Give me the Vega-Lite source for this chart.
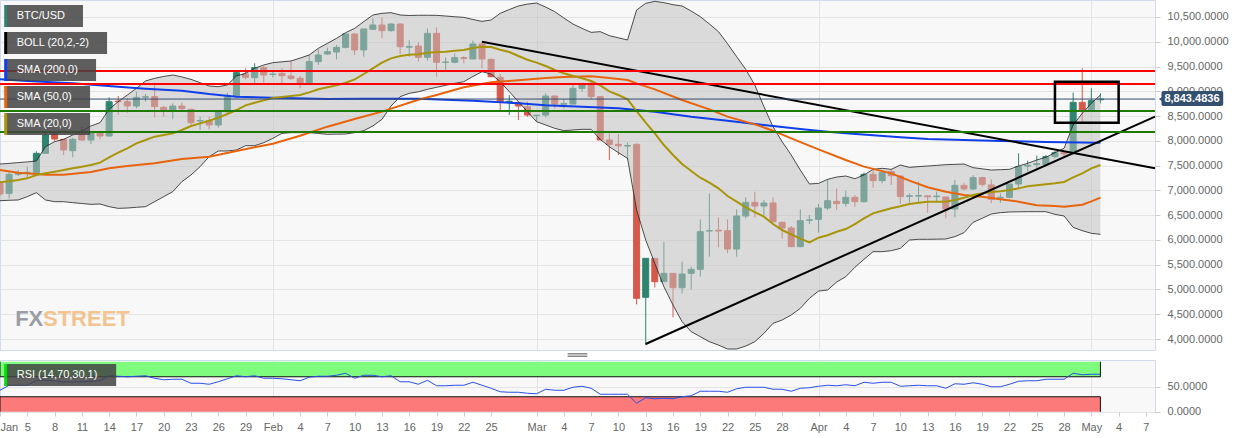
{
  "$schema": "https://vega.github.io/schema/vega-lite/v6.json",
  "padding": {"left": -2, "top": -1, "right": 0, "bottom": 0},
  "background": "white",
  "bounds": "flush",
  "spacing": 10,
  "config": {
    "font": "Liberation Sans",
    "view": {"fill": "#f8f8f8", "stroke": "#d3daeb"},
    "axis": {"title": null, "labelColor": "#666666", "labelFontSize": 11, "gridColor": "#e4e4e4", "tickColor": "#cccccc", "domain": false, "labelOverlap": false}
  },
  "datasets": {
    "days": [
      {"date":"2020-01-02","open":7142,"high":7190,"low":6880,"close":6927,"upper":7532,"lower":6792,"sma20":7162,"rsi":43},
      {"date":"2020-01-03","open":6940,"high":7378,"low":6839,"close":7324,"upper":7545,"lower":6800,"sma20":7185,"rsi":53},
      {"date":"2020-01-04","open":7324,"high":7410,"low":7290,"close":7360,"upper":7560,"lower":6806,"sma20":7209,"rsi":53},
      {"date":"2020-01-05","open":7355,"high":7478,"low":7243,"close":7365,"upper":7575,"lower":6873,"sma20":7243,"rsi":53},
      {"date":"2020-01-06","open":7344,"high":7790,"low":7320,"close":7748,"upper":7593,"lower":6954,"sma20":7310,"rsi":63},
      {"date":"2020-01-07","open":7748,"high":8165,"low":7735,"close":8118,"upper":7882,"lower":6806,"sma20":7344,"rsi":63},
      {"date":"2020-01-08","open":8138,"high":8200,"low":8000,"close":8037,"upper":7983,"lower":6772,"sma20":7378,"rsi":62},
      {"date":"2020-01-09","open":8030,"high":8040,"low":7714,"close":7815,"upper":8030,"lower":6772,"sma20":7411,"rsi":60},
      {"date":"2020-01-10","open":7801,"high":8060,"low":7667,"close":8030,"upper":8118,"lower":6752,"sma20":7445,"rsi":60},
      {"date":"2020-01-11","open":8185,"high":8290,"low":8000,"close":8017,"upper":8200,"lower":6735,"sma20":7478,"rsi":60},
      {"date":"2020-01-12","open":8017,"high":8200,"low":7936,"close":8160,"upper":8300,"lower":6718,"sma20":7512,"rsi":61},
      {"date":"2020-01-13","open":8165,"high":8200,"low":8030,"close":8098,"upper":8367,"lower":6725,"sma20":7559,"rsi":62},
      {"date":"2020-01-14","open":8098,"high":8878,"low":8090,"close":8790,"upper":8636,"lower":6671,"sma20":7667,"rsi":72},
      {"date":"2020-01-15","open":8800,"high":8905,"low":8522,"close":8790,"upper":8791,"lower":6637,"sma20":7761,"rsi":71},
      {"date":"2020-01-16","open":8790,"high":8858,"low":8568,"close":8703,"upper":8925,"lower":6644,"sma20":7849,"rsi":70},
      {"date":"2020-01-17","open":8703,"high":8993,"low":8656,"close":8878,"upper":9060,"lower":6658,"sma20":7949,"rsi":71},
      {"date":"2020-01-18","open":8880,"high":8945,"low":8790,"close":8890,"upper":9208,"lower":6671,"sma20":8017,"rsi":72},
      {"date":"2020-01-19","open":8892,"high":9160,"low":8474,"close":8690,"upper":9262,"lower":6772,"sma20":8084,"rsi":67},
      {"date":"2020-01-20","open":8676,"high":8703,"low":8488,"close":8622,"upper":9300,"lower":6873,"sma20":8120,"rsi":64},
      {"date":"2020-01-21","open":8622,"high":8757,"low":8434,"close":8703,"upper":9329,"lower":6974,"sma20":8151,"rsi":65},
      {"date":"2020-01-22","open":8703,"high":8777,"low":8589,"close":8649,"upper":9290,"lower":7176,"sma20":8219,"rsi":65},
      {"date":"2020-01-23","open":8636,"high":8650,"low":8300,"close":8367,"upper":9241,"lower":7310,"sma20":8300,"rsi":57},
      {"date":"2020-01-24","open":8400,"high":8488,"low":8219,"close":8410,"upper":9175,"lower":7479,"sma20":8353,"rsi":57},
      {"date":"2020-01-25","open":8407,"high":8488,"low":8232,"close":8320,"upper":9107,"lower":7680,"sma20":8407,"rsi":55},
      {"date":"2020-01-26","open":8320,"high":8589,"low":8266,"close":8589,"upper":9093,"lower":7795,"sma20":8468,"rsi":60},
      {"date":"2020-01-27","open":8589,"high":8972,"low":8542,"close":8892,"upper":9127,"lower":7795,"sma20":8542,"rsi":66},
      {"date":"2020-01-28","open":8892,"high":9396,"low":8860,"close":9376,"upper":9309,"lower":7815,"sma20":8622,"rsi":72},
      {"date":"2020-01-29","open":9349,"high":9460,"low":9241,"close":9282,"upper":9362,"lower":7902,"sma20":8717,"rsi":70},
      {"date":"2020-01-30","open":9275,"high":9564,"low":9161,"close":9477,"upper":9464,"lower":7902,"sma20":8770,"rsi":72},
      {"date":"2020-01-31","open":9477,"high":9510,"low":9174,"close":9329,"upper":9531,"lower":7963,"sma20":8817,"rsi":67},
      {"date":"2020-02-01","open":9340,"high":9430,"low":9282,"close":9349,"upper":9578,"lower":8050,"sma20":8865,"rsi":67},
      {"date":"2020-02-02","open":9362,"high":9464,"low":9127,"close":9315,"upper":9595,"lower":8151,"sma20":8885,"rsi":66},
      {"date":"2020-02-03","open":9309,"high":9612,"low":9228,"close":9262,"upper":9612,"lower":8165,"sma20":8905,"rsi":64},
      {"date":"2020-02-04","open":9262,"high":9309,"low":9060,"close":9161,"upper":9670,"lower":8165,"sma20":8925,"rsi":62},
      {"date":"2020-02-05","open":9161,"high":9733,"low":9161,"close":9598,"upper":9733,"lower":8165,"sma20":8979,"rsi":69},
      {"date":"2020-02-06","open":9598,"high":9847,"low":9531,"close":9733,"upper":9867,"lower":8150,"sma20":9040,"rsi":71},
      {"date":"2020-02-07","open":9753,"high":9881,"low":9733,"close":9800,"upper":9968,"lower":8131,"sma20":9080,"rsi":71},
      {"date":"2020-02-08","open":9793,"high":9935,"low":9645,"close":9887,"upper":10069,"lower":8135,"sma20":9120,"rsi":73},
      {"date":"2020-02-09","open":9887,"high":10157,"low":9867,"close":10157,"upper":10184,"lower":8138,"sma20":9174,"rsi":77},
      {"date":"2020-02-10","open":10157,"high":10170,"low":9733,"close":9834,"upper":10271,"lower":8165,"sma20":9241,"rsi":67},
      {"date":"2020-02-11","open":9834,"high":10258,"low":9699,"close":10258,"upper":10406,"lower":8205,"sma20":9349,"rsi":73},
      {"date":"2020-02-12","open":10251,"high":10473,"low":10237,"close":10338,"upper":10540,"lower":8300,"sma20":9464,"rsi":73},
      {"date":"2020-02-13","open":10338,"high":10493,"low":10069,"close":10224,"upper":10574,"lower":8434,"sma20":9578,"rsi":70},
      {"date":"2020-02-14","open":10224,"high":10372,"low":10204,"close":10358,"upper":10587,"lower":8703,"sma20":9665,"rsi":72},
      {"date":"2020-02-15","open":10358,"high":10372,"low":9753,"close":9901,"upper":10540,"lower":8892,"sma20":9713,"rsi":60},
      {"date":"2020-02-16","open":9890,"high":10036,"low":9699,"close":9905,"upper":10530,"lower":8959,"sma20":9739,"rsi":60},
      {"date":"2020-02-17","open":9914,"high":9990,"low":9600,"close":9686,"upper":10535,"lower":8990,"sma20":9750,"rsi":55},
      {"date":"2020-02-18","open":9686,"high":10271,"low":9618,"close":10170,"upper":10535,"lower":9040,"sma20":9780,"rsi":63},
      {"date":"2020-02-19","open":10170,"high":10291,"low":9295,"close":9585,"upper":10533,"lower":9080,"sma20":9793,"rsi":52},
      {"date":"2020-02-20","open":9585,"high":9686,"low":9396,"close":9590,"upper":10520,"lower":9120,"sma20":9800,"rsi":52},
      {"date":"2020-02-21","open":9585,"high":9766,"low":9564,"close":9679,"upper":10505,"lower":9160,"sma20":9820,"rsi":53},
      {"date":"2020-02-22","open":9679,"high":9713,"low":9564,"close":9660,"upper":10493,"lower":9194,"sma20":9834,"rsi":53},
      {"date":"2020-02-23","open":9652,"high":10022,"low":9652,"close":9955,"upper":10450,"lower":9300,"sma20":9874,"rsi":59},
      {"date":"2020-02-24","open":9955,"high":10002,"low":9464,"close":9652,"upper":10412,"lower":9396,"sma20":9901,"rsi":53},
      {"date":"2020-02-25","open":9645,"high":9665,"low":9282,"close":9295,"upper":10439,"lower":9349,"sma20":9894,"rsi":47},
      {"date":"2020-02-26","open":9282,"high":9349,"low":8622,"close":8791,"upper":10574,"lower":9194,"sma20":9840,"rsi":40},
      {"date":"2020-02-27","open":8791,"high":8925,"low":8521,"close":8800,"upper":10650,"lower":8993,"sma20":9793,"rsi":39},
      {"date":"2020-02-28","open":8777,"high":8791,"low":8421,"close":8703,"upper":10722,"lower":8791,"sma20":9713,"rsi":39},
      {"date":"2020-02-29","open":8690,"high":8791,"low":8488,"close":8521,"upper":10760,"lower":8589,"sma20":9638,"rsi":37},
      {"date":"2020-03-01","open":8508,"high":8521,"low":8387,"close":8517,"upper":10782,"lower":8387,"sma20":9578,"rsi":36},
      {"date":"2020-03-02","open":8521,"high":8959,"low":8474,"close":8905,"upper":10700,"lower":8320,"sma20":9511,"rsi":45},
      {"date":"2020-03-03","open":8905,"high":8905,"low":8656,"close":8743,"upper":10607,"lower":8252,"sma20":9430,"rsi":43},
      {"date":"2020-03-04","open":8740,"high":8838,"low":8656,"close":8750,"upper":10480,"lower":8205,"sma20":9363,"rsi":43},
      {"date":"2020-03-05","open":8743,"high":9127,"low":8743,"close":9060,"upper":10358,"lower":8219,"sma20":9309,"rsi":49},
      {"date":"2020-03-06","open":9060,"high":9161,"low":8993,"close":9127,"upper":10270,"lower":8232,"sma20":9262,"rsi":51},
      {"date":"2020-03-07","open":9161,"high":9228,"low":8844,"close":8892,"upper":10190,"lower":8232,"sma20":9208,"rsi":47},
      {"date":"2020-03-08","open":8892,"high":8892,"low":8017,"close":8017,"upper":10204,"lower":8030,"sma20":9120,"rsi":35},
      {"date":"2020-03-09","open":8017,"high":8151,"low":7613,"close":7929,"upper":10123,"lower":7882,"sma20":8999,"rsi":35},
      {"date":"2020-03-10","open":7929,"high":8138,"low":7714,"close":7900,"upper":10080,"lower":7761,"sma20":8925,"rsi":35},
      {"date":"2020-03-11","open":7895,"high":7963,"low":7627,"close":7905,"upper":10036,"lower":7647,"sma20":8838,"rsi":35},
      {"date":"2020-03-12","open":7929,"high":7950,"low":4699,"close":4821,"upper":10641,"lower":6604,"sma20":8602,"rsi":17},
      {"date":"2020-03-13","open":4841,"high":5628,"low":3878,"close":5628,"upper":10776,"lower":5998,"sma20":8367,"rsi":28},
      {"date":"2020-03-14","open":5628,"high":5628,"low":5043,"close":5157,"upper":10816,"lower":5527,"sma20":8151,"rsi":26},
      {"date":"2020-03-15","open":5157,"high":5964,"low":5157,"close":5325,"upper":10790,"lower":5056,"sma20":7916,"rsi":27},
      {"date":"2020-03-16","open":5325,"high":5325,"low":4437,"close":5036,"upper":10749,"lower":4686,"sma20":7714,"rsi":26},
      {"date":"2020-03-17","open":5036,"high":5561,"low":4921,"close":5312,"upper":10722,"lower":4349,"sma20":7532,"rsi":30},
      {"date":"2020-03-18","open":5325,"high":5460,"low":5002,"close":5406,"upper":10620,"lower":4148,"sma20":7391,"rsi":32},
      {"date":"2020-03-19","open":5406,"high":6415,"low":5258,"close":6166,"upper":10507,"lower":4047,"sma20":7256,"rsi":41},
      {"date":"2020-03-20","open":6180,"high":6940,"low":5662,"close":6186,"upper":10360,"lower":3946,"sma20":7155,"rsi":41},
      {"date":"2020-03-21","open":6195,"high":6456,"low":5850,"close":6180,"upper":10204,"lower":3878,"sma20":7041,"rsi":41},
      {"date":"2020-03-22","open":6186,"high":6415,"low":5729,"close":5816,"upper":9960,"lower":3798,"sma20":6886,"rsi":39},
      {"date":"2020-03-23","open":5816,"high":6617,"low":5662,"close":6483,"upper":9699,"lower":3798,"sma20":6772,"rsi":46},
      {"date":"2020-03-24","open":6483,"high":6859,"low":6435,"close":6758,"upper":9443,"lower":3858,"sma20":6658,"rsi":49},
      {"date":"2020-03-25","open":6758,"high":6974,"low":6456,"close":6685,"upper":9127,"lower":3946,"sma20":6563,"rsi":49},
      {"date":"2020-03-26","open":6685,"high":6805,"low":6503,"close":6745,"upper":8690,"lower":4114,"sma20":6469,"rsi":49},
      {"date":"2020-03-27","open":6745,"high":6859,"low":6348,"close":6368,"upper":8286,"lower":4316,"sma20":6321,"rsi":45},
      {"date":"2020-03-28","open":6355,"high":6368,"low":6025,"close":6240,"upper":7983,"lower":4383,"sma20":6200,"rsi":45},
      {"date":"2020-03-29","open":6240,"high":6281,"low":5864,"close":5864,"upper":7714,"lower":4484,"sma20":6112,"rsi":41},
      {"date":"2020-03-30","open":5864,"high":6617,"low":5850,"close":6388,"upper":7411,"lower":4619,"sma20":6025,"rsi":47},
      {"date":"2020-03-31","open":6395,"high":6503,"low":6321,"close":6405,"upper":7129,"lower":4821,"sma20":5951,"rsi":48},
      {"date":"2020-04-01","open":6415,"high":6725,"low":6146,"close":6644,"upper":7142,"lower":4968,"sma20":6045,"rsi":51},
      {"date":"2020-04-02","open":6644,"high":7223,"low":6604,"close":6792,"upper":7223,"lower":4989,"sma20":6095,"rsi":53},
      {"date":"2020-04-03","open":6779,"high":7041,"low":6604,"close":6732,"upper":7270,"lower":5150,"sma20":6165,"rsi":52},
      {"date":"2020-04-04","open":6738,"high":6994,"low":6671,"close":6860,"upper":7290,"lower":5258,"sma20":6220,"rsi":54},
      {"date":"2020-04-05","open":6860,"high":6907,"low":6671,"close":6772,"upper":7236,"lower":5447,"sma20":6321,"rsi":52},
      {"date":"2020-04-06","open":6772,"high":7358,"low":6752,"close":7324,"upper":7310,"lower":5608,"sma20":6436,"rsi":59},
      {"date":"2020-04-07","open":7324,"high":7445,"low":7055,"close":7196,"upper":7425,"lower":5763,"sma20":6537,"rsi":57},
      {"date":"2020-04-08","open":7196,"high":7411,"low":7142,"close":7358,"upper":7445,"lower":5763,"sma20":6590,"rsi":59},
      {"date":"2020-04-09","open":7378,"high":7425,"low":7109,"close":7297,"upper":7425,"lower":5783,"sma20":6638,"rsi":59},
      {"date":"2020-04-10","open":7290,"high":7310,"low":6725,"close":6873,"upper":7512,"lower":5830,"sma20":6678,"rsi":51},
      {"date":"2020-04-11","open":6880,"high":6940,"low":6752,"close":6890,"upper":7465,"lower":5998,"sma20":6725,"rsi":52},
      {"date":"2020-04-12","open":6885,"high":7176,"low":6772,"close":6895,"upper":7480,"lower":6012,"sma20":6752,"rsi":53},
      {"date":"2020-04-13","open":6890,"high":6907,"low":6550,"close":6870,"upper":7492,"lower":6012,"sma20":6772,"rsi":52},
      {"date":"2020-04-14","open":6873,"high":6974,"low":6772,"close":6885,"upper":7505,"lower":6015,"sma20":6772,"rsi":52},
      {"date":"2020-04-15","open":6866,"high":6873,"low":6436,"close":6624,"upper":7519,"lower":6018,"sma20":6772,"rsi":47},
      {"date":"2020-04-16","open":6624,"high":7210,"low":6456,"close":7102,"upper":7525,"lower":6066,"sma20":6806,"rsi":56},
      {"date":"2020-04-17","open":7102,"high":7156,"low":7008,"close":7028,"upper":7532,"lower":6146,"sma20":6853,"rsi":55},
      {"date":"2020-04-18","open":7028,"high":7310,"low":7008,"close":7257,"upper":7459,"lower":6355,"sma20":6907,"rsi":58},
      {"date":"2020-04-19","open":7257,"high":7277,"low":7075,"close":7122,"upper":7435,"lower":6436,"sma20":6940,"rsi":55},
      {"date":"2020-04-20","open":7109,"high":7223,"low":6739,"close":6819,"upper":7411,"lower":6523,"sma20":6967,"rsi":50},
      {"date":"2020-04-21","open":6850,"high":6940,"low":6752,"close":6860,"upper":7418,"lower":6550,"sma20":6981,"rsi":50},
      {"date":"2020-04-22","open":6860,"high":7129,"low":6839,"close":7129,"upper":7425,"lower":6564,"sma20":7008,"rsi":55},
      {"date":"2020-04-23","open":7129,"high":7748,"low":7041,"close":7479,"upper":7492,"lower":6567,"sma20":7041,"rsi":61},
      {"date":"2020-04-24","open":7490,"high":7600,"low":7378,"close":7505,"upper":7546,"lower":6570,"sma20":7082,"rsi":62},
      {"date":"2020-04-25","open":7520,"high":7701,"low":7445,"close":7540,"upper":7613,"lower":6570,"sma20":7102,"rsi":62},
      {"date":"2020-04-26","open":7526,"high":7714,"low":7479,"close":7681,"upper":7667,"lower":6570,"sma20":7122,"rsi":65},
      {"date":"2020-04-27","open":7681,"high":7802,"low":7647,"close":7761,"upper":7761,"lower":6516,"sma20":7142,"rsi":65},
      {"date":"2020-04-28","open":7761,"high":7781,"low":7680,"close":7735,"upper":7849,"lower":6483,"sma20":7169,"rsi":65},
      {"date":"2020-04-29","open":7761,"high":8973,"low":7714,"close":8777,"upper":8320,"lower":6254,"sma20":7263,"rsi":77},
      {"date":"2020-04-30","open":8777,"high":9464,"low":8387,"close":8623,"upper":8555,"lower":6187,"sma20":7344,"rsi":74},
      {"date":"2020-05-01","open":8623,"high":9060,"low":8623,"close":8811,"upper":8757,"lower":6133,"sma20":7445,"rsi":75},
      {"date":"2020-05-02","open":8830,"high":8959,"low":8757,"close":8843,"upper":8925,"lower":6113,"sma20":7512,"rsi":75}
    ],
    "sma50": [
      {"date":"2020-01-02","value":7411},{"date":"2020-01-04","value":7357},{"date":"2020-01-06","value":7330},{"date":"2020-01-07","value":7317},{"date":"2020-01-09","value":7317},{"date":"2020-01-12","value":7371},{"date":"2020-01-14","value":7445},{"date":"2020-01-16","value":7492},{"date":"2020-01-19","value":7546},{"date":"2020-01-22","value":7633},{"date":"2020-01-25","value":7680},{"date":"2020-01-28","value":7795},{"date":"2020-01-30","value":7869},{"date":"2020-02-01","value":7943},{"date":"2020-02-04","value":8104},{"date":"2020-02-07","value":8286},{"date":"2020-02-10","value":8441},{"date":"2020-02-13","value":8589},{"date":"2020-02-17","value":8830},{"date":"2020-02-19","value":8925},{"date":"2020-02-22","value":9080},{"date":"2020-02-25","value":9181},{"date":"2020-02-27","value":9208},{"date":"2020-03-02","value":9268},{"date":"2020-03-04","value":9289},{"date":"2020-03-07","value":9302},{"date":"2020-03-09","value":9268},{"date":"2020-03-11","value":9228},{"date":"2020-03-12","value":9161},{"date":"2020-03-14","value":9040},{"date":"2020-03-17","value":8824},{"date":"2020-03-20","value":8636},{"date":"2020-03-22","value":8488},{"date":"2020-03-25","value":8333},{"date":"2020-03-27","value":8205},{"date":"2020-03-29","value":8050},{"date":"2020-04-01","value":7828},{"date":"2020-04-04","value":7613},{"date":"2020-04-06","value":7479},{"date":"2020-04-09","value":7344},{"date":"2020-04-11","value":7196},{"date":"2020-04-13","value":7062},{"date":"2020-04-15","value":6974},{"date":"2020-04-17","value":6907},{"date":"2020-04-19","value":6873},{"date":"2020-04-21","value":6819},{"date":"2020-04-23","value":6772},{"date":"2020-04-25","value":6698},{"date":"2020-04-27","value":6685},{"date":"2020-04-28","value":6671},{"date":"2020-04-30","value":6712},{"date":"2020-05-01","value":6779},{"date":"2020-05-02","value":6853}
    ],
    "sma200": [
      {"date":"2020-01-02","value":9241},{"date":"2020-01-05","value":9208},{"date":"2020-01-10","value":9161},{"date":"2020-01-15","value":9093},{"date":"2020-01-18","value":9053},{"date":"2020-01-22","value":9013},{"date":"2020-01-25","value":8945},{"date":"2020-01-28","value":8892},{"date":"2020-02-01","value":8871},{"date":"2020-02-07","value":8844},{"date":"2020-02-11","value":8851},{"date":"2020-02-17","value":8851},{"date":"2020-02-23","value":8811},{"date":"2020-02-28","value":8757},{"date":"2020-03-02","value":8717},{"date":"2020-03-06","value":8690},{"date":"2020-03-10","value":8656},{"date":"2020-03-14","value":8589},{"date":"2020-03-18","value":8488},{"date":"2020-03-22","value":8407},{"date":"2020-03-26","value":8320},{"date":"2020-03-30","value":8239},{"date":"2020-04-02","value":8185},{"date":"2020-04-04","value":8152},{"date":"2020-04-07","value":8111},{"date":"2020-04-10","value":8071},{"date":"2020-04-13","value":8037},{"date":"2020-04-17","value":8017},{"date":"2020-04-21","value":7997},{"date":"2020-04-26","value":7977},{"date":"2020-05-02","value":7963}
    ],
    "trend": [
      {"line":"falling","date":"2020-02-24","value":10001},{"line":"falling","date":"2020-05-08","value":7445},
      {"line":"rising","date":"2020-03-13","value":3899},{"line":"rising","date":"2020-05-08","value":8488}
    ],
    "levels": [
      {"kind":"resistance","date":"2020-01-02","date2":"2020-05-08","value":9410},
      {"kind":"resistance","date":"2020-01-02","date2":"2020-05-08","value":9147},
      {"kind":"support","date":"2020-01-02","date2":"2020-05-08","value":8602},
      {"kind":"support","date":"2020-01-02","date2":"2020-05-08","value":8178}
    ],
    "lastPrice": [
      {"date":"2020-01-02","date2":"2020-05-08","value":8843.4836}
    ],
    "box": [
      {"date":"2020-04-27","date2":"2020-05-04","top":9195,"bottom":8367}
    ],
    "tag": [
      {"date":"2020-05-08T17:00:00Z","date2":"2020-05-15T12:00:00Z","top":9006,"bottom":8703,"price":8843.4836}
    ],
    "chips": [
      {"label":"BTC/USD","date":"2020-01-02T15:00:00Z","date2":"2020-01-11T03:00:00Z","top":10742,"bottom":10298},
      {"label":"BOLL (20,2,-2)","date":"2020-01-02T15:00:00Z","date2":"2020-01-13T18:30:00Z","top":10197,"bottom":9753},
      {"label":"SMA (200,0)","date":"2020-01-02T15:00:00Z","date2":"2020-01-12T13:30:00Z","top":9652,"bottom":9208},
      {"label":"SMA (50,0)","date":"2020-01-02T15:00:00Z","date2":"2020-01-11T21:40:00Z","top":9107,"bottom":8663},
      {"label":"SMA (20,0)","date":"2020-01-02T15:00:00Z","date2":"2020-01-11T21:40:00Z","top":8562,"bottom":8118}
    ],
    "watermark": [
      {"label":"FX","date":"2020-01-03T16:00:00Z","value":4262},
      {"label":"STREET","date":"2020-01-06T17:30:00Z","value":4262}
    ],
    "handle": [
      {"date":"2020-03-04T10:00:00Z","date2":"2020-03-06T14:00:00Z","value":3707},
      {"date":"2020-03-04T10:00:00Z","date2":"2020-03-06T14:00:00Z","value":3677},
      {"date":"2020-03-04T10:00:00Z","date2":"2020-03-06T14:00:00Z","value":3647}
    ],
    "rsiZones": [
      {"zone":"overbought","date":"2020-01-02","date2":"2020-05-02","lo":70,"hi":100,"edge":70},
      {"zone":"oversold","date":"2020-01-02","date2":"2020-05-02","lo":0,"hi":30,"edge":30}
    ],
    "rsiSides": [
      {"date":"2020-01-02","lo":70,"hi":100},{"date":"2020-01-02","lo":0,"hi":30},
      {"date":"2020-05-02","lo":70,"hi":100},{"date":"2020-05-02","lo":0,"hi":30}
    ],
    "rsiChip": [
      {"label":"RSI (14,70,30,1)","date":"2020-01-02T15:00:00Z","date2":"2020-01-14T18:30:00Z","top":95.5,"bottom":51.5}
    ]
  },
  "vconcat": [
    {
      "width": 1155,
      "height": 350,
      "resolve": {"axis": {"y": "independent"}},
      "encoding": {
        "x": {
          "field": "date",
          "type": "temporal",
          "scale": {"type": "utc", "domain": ["2020-01-02", "2020-05-08"], "padding": 0},
          "axis": {
            "values": ["2020-02-01", "2020-03-01", "2020-04-01", "2020-05-01"],
            "labels": false,
            "ticks": false,
            "grid": true
          }
        }
      },
      "layer": [
        {
          "data": {"name": "days"},
          "mark": {"type": "rule", "strokeWidth": 1, "clip": true},
          "encoding": {
            "y": {
              "field": "high",
              "type": "quantitative",
              "scale": {"domain": [3778, 10843]},
              "axis": {
                "orient": "right",
                "values": [4000, 4500, 5000, 5500, 6000, 6500, 7000, 7500, 8000, 8500, 9000, 9500, 10000, 10500],
                "format": ",.4f",
                "grid": true,
                "tickSize": 5,
                "labelPadding": 7
              }
            },
            "y2": {"field": "low"},
            "color": {"condition": {"test": "datum.close >= datum.open", "value": "#2f8470"}, "value": "#d5594a"}
          }
        },
        {
          "data": {"name": "days"},
          "mark": {"type": "bar", "size": 6, "strokeWidth": 1, "clip": true},
          "encoding": {
            "y": {"field": "open", "type": "quantitative", "scale": {"domain": [3778, 10843]}, "axis": null},
            "y2": {"field": "close"},
            "color": {"condition": {"test": "datum.close >= datum.open", "value": "#2f8470"}, "value": "#d5594a"},
            "stroke": {"condition": {"test": "datum.close >= datum.open", "value": "#2f8470"}, "value": "#d5594a"}
          }
        },
        {
          "data": {"name": "days"},
          "mark": {"type": "area", "color": "#c1c1c1", "opacity": 0.54, "clip": true},
          "encoding": {
            "y": {"field": "upper", "type": "quantitative", "scale": {"domain": [3778, 10843]}, "axis": null},
            "y2": {"field": "lower"}
          }
        },
        {
          "data": {"name": "days"},
          "mark": {"type": "line", "color": "#222222", "strokeWidth": 0.8, "clip": true},
          "encoding": {"y": {"field": "upper", "type": "quantitative", "scale": {"domain": [3778, 10843]}, "axis": null}}
        },
        {
          "data": {"name": "days"},
          "mark": {"type": "line", "color": "#222222", "strokeWidth": 0.8, "clip": true},
          "encoding": {"y": {"field": "lower", "type": "quantitative", "scale": {"domain": [3778, 10843]}, "axis": null}}
        },
        {
          "data": {"name": "sma200"},
          "mark": {"type": "line", "color": "#0f3fe8", "strokeWidth": 2, "clip": true},
          "encoding": {"y": {"field": "value", "type": "quantitative", "scale": {"domain": [3778, 10843]}, "axis": null}}
        },
        {
          "data": {"name": "sma50"},
          "mark": {"type": "line", "color": "#e8640c", "strokeWidth": 2, "clip": true},
          "encoding": {"y": {"field": "value", "type": "quantitative", "scale": {"domain": [3778, 10843]}, "axis": null}}
        },
        {
          "data": {"name": "days"},
          "mark": {"type": "line", "color": "#a8950a", "strokeWidth": 2, "clip": true},
          "encoding": {"y": {"field": "sma20", "type": "quantitative", "scale": {"domain": [3778, 10843]}, "axis": null}}
        },
        {
          "data": {"name": "trend"},
          "mark": {"type": "line", "color": "#000000", "strokeWidth": 2},
          "encoding": {
            "y": {"field": "value", "type": "quantitative", "scale": {"domain": [3778, 10843]}, "axis": null},
            "detail": {"field": "line"}
          }
        },
        {
          "data": {"name": "lastPrice"},
          "mark": {"type": "rule", "color": "#34496e", "strokeWidth": 1},
          "encoding": {
            "y": {"field": "value", "type": "quantitative", "scale": {"domain": [3778, 10843]}, "axis": null},
            "x2": {"field": "date2"}
          }
        },
        {
          "data": {"name": "levels"},
          "mark": {"type": "rule", "strokeWidth": 2},
          "encoding": {
            "y": {"field": "value", "type": "quantitative", "scale": {"domain": [3778, 10843]}, "axis": null},
            "x2": {"field": "date2"},
            "color": {"condition": {"test": "datum.kind === 'resistance'", "value": "#ff0000"}, "value": "#1f7a00"}
          }
        },
        {
          "data": {"name": "box"},
          "mark": {"type": "rect", "fillOpacity": 0, "stroke": "#000000", "strokeWidth": 2.5},
          "encoding": {
            "y": {"field": "top", "type": "quantitative", "scale": {"domain": [3778, 10843]}, "axis": null},
            "y2": {"field": "bottom"},
            "x2": {"field": "date2"}
          }
        },
        {
          "data": {"name": "tag"},
          "mark": {"type": "rect", "color": "#34506f", "cornerRadius": 2},
          "encoding": {
            "y": {"field": "top", "type": "quantitative", "scale": {"domain": [3778, 10843]}, "axis": null},
            "y2": {"field": "bottom"},
            "x2": {"field": "date2"}
          }
        },
        {
          "data": {"name": "tag"},
          "mark": {"type": "point", "shape": "triangle-left", "filled": true, "size": 40, "color": "#34506f", "opacity": 1},
          "encoding": {
            "y": {"field": "price", "type": "quantitative", "scale": {"domain": [3778, 10843]}, "axis": null}
          }
        },
        {
          "data": {"name": "tag"},
          "mark": {"type": "text", "align": "left", "baseline": "middle", "dx": 3, "fontSize": 11, "fontWeight": "bold", "color": "#ffffff"},
          "encoding": {
            "y": {"field": "price", "type": "quantitative", "scale": {"domain": [3778, 10843]}, "axis": null},
            "text": {"field": "price", "type": "quantitative", "format": ",.4f"}
          }
        },
        {
          "data": {"name": "watermark"},
          "mark": {"type": "text", "align": "left", "baseline": "alphabetic", "font": "Liberation Sans", "fontWeight": "bold", "fontSize": 22},
          "encoding": {
            "y": {"field": "value", "type": "quantitative", "scale": {"domain": [3778, 10843]}, "axis": null},
            "text": {"field": "label"},
            "color": {"condition": {"test": "datum.label === 'FX'", "value": "#9a9da6"}, "value": "#f3c48f"}
          }
        },
        {
          "data": {"name": "handle"},
          "mark": {"type": "rule", "color": "#888888", "strokeWidth": 1},
          "encoding": {
            "y": {"field": "value", "type": "quantitative", "scale": {"domain": [3778, 10843]}, "axis": null},
            "x2": {"field": "date2"}
          }
        },
        {
          "data": {"name": "chips"},
          "mark": {"type": "rect", "color": "#434343", "opacity": 0.85},
          "encoding": {
            "y": {"field": "top", "type": "quantitative", "scale": {"domain": [3778, 10843]}, "axis": null},
            "y2": {"field": "bottom"},
            "x2": {"field": "date2"}
          }
        },
        {
          "data": {"name": "chips"},
          "mark": {"type": "rule", "strokeWidth": 3},
          "encoding": {
            "y": {"field": "top", "type": "quantitative", "scale": {"domain": [3778, 10843]}, "axis": null},
            "y2": {"field": "bottom"},
            "color": {
              "field": "label",
              "type": "nominal",
              "legend": null,
              "scale": {
                "domain": ["BTC/USD", "BOLL (20,2,-2)", "SMA (200,0)", "SMA (50,0)", "SMA (20,0)"],
                "range": ["#2f8470", "#000000", "#0f3fe8", "#e8640c", "#a8950a"]
              }
            }
          }
        },
        {
          "data": {"name": "chips"},
          "mark": {"type": "text", "align": "left", "baseline": "middle", "dx": 11, "dy": 11, "fontSize": 11, "color": "#ffffff"},
          "encoding": {
            "y": {"field": "top", "type": "quantitative", "scale": {"domain": [3778, 10843]}, "axis": null},
            "text": {"field": "label"}
          }
        }
      ]
    },
    {
      "width": 1155,
      "height": 52,
      "resolve": {"axis": {"y": "independent"}},
      "encoding": {
        "x": {
          "field": "date",
          "type": "temporal",
          "scale": {"type": "utc", "domain": ["2020-01-02", "2020-05-08"]},
          "axis": {
            "values": [
              "2020-01-02","2020-01-05","2020-01-08","2020-01-11","2020-01-14","2020-01-17","2020-01-20","2020-01-23","2020-01-26","2020-01-29",
              "2020-02-01","2020-02-04","2020-02-07","2020-02-10","2020-02-13","2020-02-16","2020-02-19","2020-02-22","2020-02-25",
              "2020-03-01","2020-03-04","2020-03-07","2020-03-10","2020-03-13","2020-03-16","2020-03-19","2020-03-22","2020-03-25","2020-03-28",
              "2020-04-01","2020-04-04","2020-04-07","2020-04-10","2020-04-13","2020-04-16","2020-04-19","2020-04-22","2020-04-25","2020-04-28",
              "2020-05-01","2020-05-04","2020-05-07"
            ],
            "labelExpr": "utcdate(datum.value) <= 2 ? utcFormat(datum.value, '%b') : utcFormat(datum.value, '%-d')",
            "labelFlush": true,
            "tickSize": 4,
            "labelPadding": 5,
            "grid": true,
            "gridColor": {"condition": {"test": "utcdate(datum.value) === 1", "value": "#e4e4e4"}, "value": "transparent"}
          }
        }
      },
      "layer": [
        {
          "data": {"name": "rsiZones"},
          "mark": {"type": "rect", "clip": true},
          "encoding": {
            "y": {
              "field": "lo",
              "type": "quantitative",
              "scale": {"domain": [-0.5, 103.5]},
              "axis": {
                "orient": "right",
                "values": [0, 50],
                "format": ".4f",
                "grid": true,
                "tickSize": 5,
                "labelPadding": 7
              }
            },
            "y2": {"field": "hi"},
            "x2": {"field": "date2"},
            "color": {"condition": {"test": "datum.zone === 'overbought'", "value": "#7dfc7d"}, "value": "#fc7a7a"}
          }
        },
        {
          "data": {"name": "rsiZones"},
          "mark": {"type": "rule", "color": "#111111", "strokeWidth": 1},
          "encoding": {
            "y": {"field": "edge", "type": "quantitative", "scale": {"domain": [-0.5, 103.5]}, "axis": null},
            "x2": {"field": "date2"}
          }
        },
        {
          "data": {"name": "rsiSides"},
          "mark": {"type": "rule", "color": "#111111", "strokeWidth": 1},
          "encoding": {
            "y": {"field": "lo", "type": "quantitative", "scale": {"domain": [-0.5, 103.5]}, "axis": null},
            "y2": {"field": "hi"}
          }
        },
        {
          "data": {"name": "days"},
          "mark": {"type": "line", "color": "#2b50e8", "strokeWidth": 1, "clip": true},
          "encoding": {"y": {"field": "rsi", "type": "quantitative", "scale": {"domain": [-0.5, 103.5]}, "axis": null}}
        },
        {
          "data": {"name": "rsiChip"},
          "mark": {"type": "rect", "color": "#434343", "opacity": 0.85},
          "encoding": {
            "y": {"field": "top", "type": "quantitative", "scale": {"domain": [-0.5, 103.5]}, "axis": null},
            "y2": {"field": "bottom"},
            "x2": {"field": "date2"}
          }
        },
        {
          "data": {"name": "rsiChip"},
          "mark": {"type": "rule", "color": "#00e000", "strokeWidth": 3},
          "encoding": {
            "y": {"field": "top", "type": "quantitative", "scale": {"domain": [-0.5, 103.5]}, "axis": null},
            "y2": {"field": "bottom"}
          }
        },
        {
          "data": {"name": "rsiChip"},
          "mark": {"type": "text", "align": "left", "baseline": "middle", "dx": 11, "dy": 11, "fontSize": 11, "color": "#ffffff"},
          "encoding": {
            "y": {"field": "top", "type": "quantitative", "scale": {"domain": [-0.5, 103.5]}, "axis": null},
            "text": {"field": "label"}
          }
        }
      ]
    }
  ]
}
